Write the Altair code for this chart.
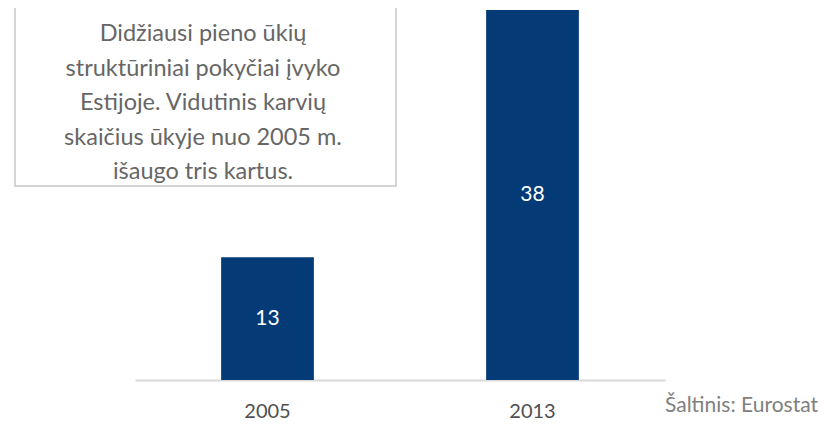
import altair as alt
import pandas as pd

years = ["2005", "2013"]
values = [12.6, 38.0]
note_lines = [
    "Didžiausi pieno ūkių",
    "struktūriniai pokyčiai įvyko",
    "Estijoje. Vidutinis karvių",
    "skaičius ūkyje nuo 2005 m.",
    "išaugo tris kartus.",
]
source_text = "Šaltinis: Eurostat"

df = pd.DataFrame({"year": years, "value": values})

FONT = "Lato"

x_enc = alt.X(
    "year:N",
    sort=years,
    scale=alt.Scale(paddingInner=0.65, paddingOuter=0.325),
    axis=alt.Axis(
        title=None,
        labelAngle=0,
        ticks=False,
        domain=True,
        domainColor="#d9d9d9",
        domainWidth=2,
        labelFont=FONT,
        labelFontSize=20,
        labelColor="#505050",
        labelPadding=21,
    ),
)
y_enc = alt.Y(
    "value:Q",
    scale=alt.Scale(domain=[0, 38], nice=False),
    axis=None,
)

bars = alt.Chart(df).mark_bar(color="#043b77").encode(x=x_enc, y=y_enc)

labels = alt.Chart(df).transform_calculate(
    mid="datum.value / 2"
).mark_text(
    color="white", font=FONT, fontSize=21, baseline="middle", align="center"
).encode(
    x=alt.X("year:N", sort=years),
    y=alt.Y("mid:Q"),
    text=alt.Text("value:Q", format=".0f"),
)

box = alt.Chart(pd.DataFrame({"k": [0]})).mark_rect(
    fill="white", stroke="#c8c8c8", strokeWidth=1.5
).encode(
    x=alt.value(-120), x2=alt.value(261), y=alt.value(-4), y2=alt.value(176)
)

note = alt.Chart(pd.DataFrame({"t": ["\n".join(note_lines)]})).mark_text(
    font=FONT, fontSize=23.5, color="#666666", align="center", baseline="middle",
    lineBreak="\n", lineHeight=34.5,
).encode(
    x=alt.value(68), y=alt.value(24), text="t:N"
)

source = alt.Chart(pd.DataFrame({"t": [source_text]})).mark_text(
    font=FONT, fontSize=21, color="#808080", align="right", baseline="middle",
).encode(
    x=alt.value(683), y=alt.value(396), text="t:N"
)

chart = alt.layer(bars, labels, box, note, source).properties(
    width=530,
    height=370,
    padding={"left": 127, "top": 2, "right": 165, "bottom": 40},
    autosize=alt.AutoSizeParams(type="none"),
    background="white",
).configure_view(strokeWidth=0, stroke="transparent")

chart.save("out.html", embed_options={"renderer": "svg", "actions": False})
